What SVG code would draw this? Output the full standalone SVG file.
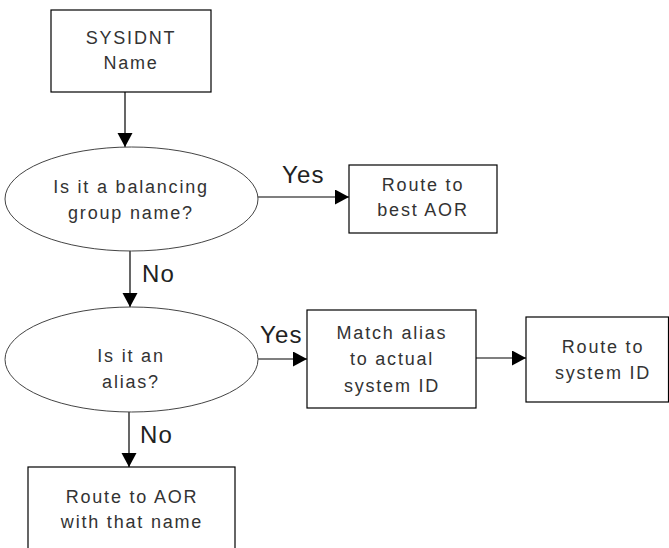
<svg xmlns="http://www.w3.org/2000/svg" width="669" height="548" viewBox="0 0 669 548">
  <style>
    .box { fill: #ffffff; stroke: #000000; stroke-width: 1.2; }
    .oval { fill: #ffffff; stroke: #444444; stroke-width: 1; }
    .txt { font-family: "Liberation Sans", Arial, sans-serif; font-size: 18px; letter-spacing: 1.8px; fill: #333333; text-anchor: middle; }
    .lbl { font-family: "Liberation Sans", Arial, sans-serif; font-size: 24px; letter-spacing: 1.2px; fill: #222222; }
    .edge { fill: none; stroke: #000000; stroke-width: 1.2; marker-end: url(#arrow); }
  </style>
  <defs>
    <marker id="arrow" markerUnits="userSpaceOnUse" markerWidth="15" markerHeight="16" refX="14" refY="7.5" orient="auto">
      <path d="M0,0 L14,7.5 L0,15 Z" fill="#000000"/>
    </marker>
  </defs>
  <rect width="669" height="548" fill="#ffffff"/>

  <g id="connectors">
    <path class="edge" d="M125,92 V147"/>
    <path class="edge" d="M258,197 H349"/>
    <path class="edge" d="M130,251 V307"/>
    <path class="edge" d="M258,359 H307"/>
    <path class="edge" d="M476,358 H526"/>
    <path class="edge" d="M129,412 V467"/>
    <text class="lbl" x="282" y="183">Yes</text>
    <text class="lbl" x="142" y="282">No</text>
    <text class="lbl" x="260" y="343">Yes</text>
    <text class="lbl" x="140" y="443">No</text>
  </g>

  <g id="sysidnt-name">
    <rect class="box" x="51" y="10" width="160" height="82"/>
    <text class="txt" x="131" y="44">SYSIDNT</text>
    <text class="txt" x="131" y="69">Name</text>
  </g>

  <g id="balancing-group-check">
    <ellipse class="oval" cx="131.5" cy="199" rx="126.5" ry="52"/>
    <text class="txt" x="131" y="193">Is it a balancing</text>
    <text class="txt" x="131" y="219">group name?</text>
  </g>

  <g id="route-best-aor">
    <rect class="box" x="349" y="165" width="148" height="68"/>
    <text class="txt" x="423" y="191">Route to</text>
    <text class="txt" x="423" y="216">best AOR</text>
  </g>

  <g id="alias-check">
    <ellipse class="oval" cx="131.5" cy="359.5" rx="126.5" ry="52.5"/>
    <text class="txt" x="131" y="362">Is it an</text>
    <text class="txt" x="131" y="388">alias?</text>
  </g>

  <g id="match-alias">
    <rect class="box" x="307" y="310" width="169" height="98"/>
    <text class="txt" x="392" y="339">Match alias</text>
    <text class="txt" x="392" y="365">to actual</text>
    <text class="txt" x="392" y="392">system ID</text>
  </g>

  <g id="route-system-id">
    <rect class="box" x="526" y="317" width="142.5" height="85"/>
    <text class="txt" x="603" y="353">Route to</text>
    <text class="txt" x="603" y="379">system ID</text>
  </g>

  <g id="route-aor-name">
    <rect class="box" x="28" y="467" width="207" height="95"/>
    <text class="txt" x="132" y="503">Route to AOR</text>
    <text class="txt" x="132" y="528">with that name</text>
  </g>
</svg>
